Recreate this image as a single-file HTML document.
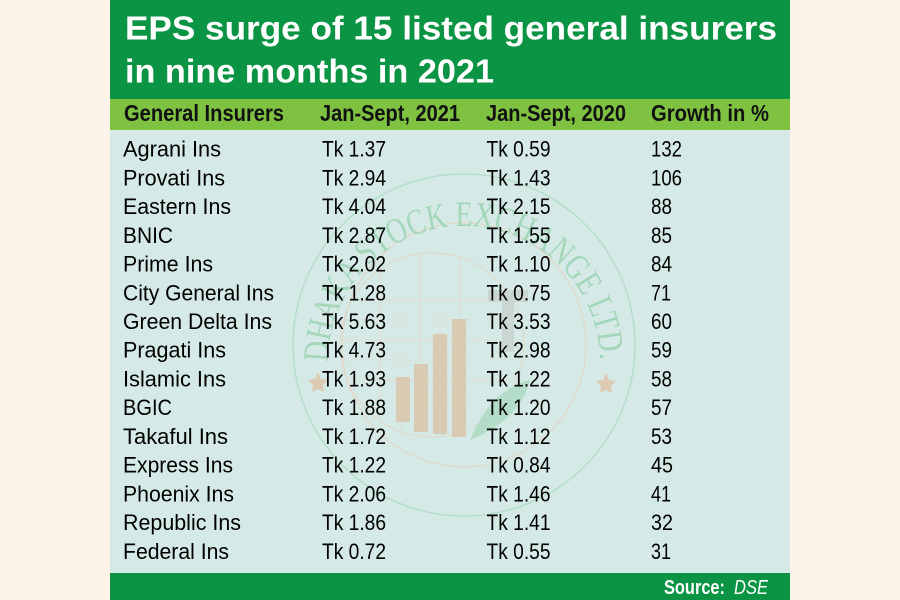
<!DOCTYPE html>
<html>
<head>
<meta charset="utf-8">
<style>
  html, body { margin: 0; padding: 0; background: #fdf3e8; }
  svg { display: block; }
  .t { font-family: "Liberation Sans", sans-serif; }
</style>
</head>
<body>
<svg width="900" height="600" viewBox="0 0 900 600" xmlns="http://www.w3.org/2000/svg">
  <rect x="0" y="0" width="900" height="600" fill="#fdf3e8"/>
  <!-- panel -->
  <rect x="110" y="0" width="680" height="99" fill="#0b9444"/>
  <rect x="110" y="99" width="680" height="31" fill="#7fc242"/>
  <rect x="110" y="130" width="680" height="443" fill="#d5eae6"/>
  <rect x="110" y="573" width="680" height="27" fill="#0b9444"/>

  <!-- watermark -->
  <g opacity="0.9">
    <circle cx="464" cy="345" r="171" fill="none" stroke="#b3dcc8" stroke-width="1.5"/>
    <circle cx="464" cy="345" r="122" fill="none" stroke="#e2d6c4" stroke-width="1.2"/>
    <circle cx="432" cy="345" r="92" fill="none" stroke="#e2d6c4" stroke-width="1"/>
    <g stroke="#e5dacb" stroke-width="0.8">
      <line x1="350" y1="300" x2="515" y2="300"/>
      <line x1="345" y1="320" x2="518" y2="320"/>
      <line x1="342" y1="340" x2="520" y2="340"/>
      <line x1="342" y1="360" x2="520" y2="360"/>
      <line x1="345" y1="380" x2="518" y2="380"/>
      <line x1="352" y1="400" x2="512" y2="400"/>
      <line x1="380" y1="262" x2="380" y2="425"/>
      <line x1="400" y1="256" x2="400" y2="432"/>
      <line x1="420" y1="253" x2="420" y2="436"/>
      <line x1="440" y1="253" x2="440" y2="436"/>
      <line x1="460" y1="256" x2="460" y2="432"/>
    </g>
    <rect x="396" y="377" width="14" height="45" fill="#d9c7ae"/>
    <rect x="414" y="364" width="14" height="68" fill="#d9c7ae"/>
    <rect x="433" y="334" width="14" height="100" fill="#d9c7ae"/>
    <rect x="452" y="319" width="14" height="118" fill="#d9c7ae"/>
    <path d="M488 290 h40 v12 h-14 v50 h-12 v-50 h-14z" fill="#c4ccc8" opacity="0.7"/>
    <path d="M470 440 q20 -50 60 -60 q-10 40 -60 60z" fill="#a6d7bb" opacity="0.8"/>
    <path d="M318 372 l3 7 l7 1 l-5 5 l1 7 l-6 -3 l-6 3 l1 -7 l-5 -5 l7 -1z" fill="#e0c7ad"/>
    <path d="M606 373 l3 7 l7 1 l-5 5 l1 7 l-6 -3 l-6 3 l1 -7 l-5 -5 l7 -1z" fill="#e0c7ad"/>
    <defs>
      <path id="arc" d="M 328 362 A 136 136 0 0 1 600 362"/>
    </defs>
    <text font-family="Liberation Serif, serif" font-size="36" fill="#9fd4b6">
      <textPath href="#arc" textLength="425" lengthAdjust="spacingAndGlyphs">DHAKA STOCK EXCHANGE LTD.</textPath>
    </text>
  </g>

  <!-- title -->
  <g class="t" font-weight="bold" font-size="33" fill="#ffffff">
    <text x="125" y="39.5" textLength="652" lengthAdjust="spacingAndGlyphs">EPS surge of 15 listed general insurers</text>
    <text x="125" y="82.5" textLength="369" lengthAdjust="spacingAndGlyphs">in nine months in 2021</text>
  </g>

  <!-- header row -->
  <g class="t" font-weight="bold" font-size="23" fill="#111">
    <text x="124" y="121" textLength="160" lengthAdjust="spacingAndGlyphs">General Insurers</text>
    <text x="320" y="121" textLength="140" lengthAdjust="spacingAndGlyphs">Jan-Sept, 2021</text>
    <text x="486" y="121" textLength="140" lengthAdjust="spacingAndGlyphs">Jan-Sept, 2020</text>
    <text x="651" y="121" textLength="118" lengthAdjust="spacingAndGlyphs">Growth in %</text>
  </g>

  <!-- body -->
  <g class="t" font-size="22" fill="#000">
    <text x="123" y="156.7" textLength="98" lengthAdjust="spacingAndGlyphs">Agrani Ins</text>
    <text x="322" y="156.7" textLength="64" lengthAdjust="spacingAndGlyphs">Tk 1.37</text>
    <text x="486.5" y="156.7" textLength="64" lengthAdjust="spacingAndGlyphs">Tk 0.59</text>
    <text x="651" y="156.7" textLength="31" lengthAdjust="spacingAndGlyphs">132</text>

    <text x="123" y="185.4" textLength="102" lengthAdjust="spacingAndGlyphs">Provati Ins</text>
    <text x="322" y="185.4" textLength="64" lengthAdjust="spacingAndGlyphs">Tk 2.94</text>
    <text x="486.5" y="185.4" textLength="64" lengthAdjust="spacingAndGlyphs">Tk 1.43</text>
    <text x="651" y="185.4" textLength="31" lengthAdjust="spacingAndGlyphs">106</text>

    <text x="123" y="214.1" textLength="108" lengthAdjust="spacingAndGlyphs">Eastern Ins</text>
    <text x="322" y="214.1" textLength="64" lengthAdjust="spacingAndGlyphs">Tk 4.04</text>
    <text x="486.5" y="214.1" textLength="64" lengthAdjust="spacingAndGlyphs">Tk 2.15</text>
    <text x="651" y="214.1" textLength="21" lengthAdjust="spacingAndGlyphs">88</text>

    <text x="123" y="242.9" textLength="50" lengthAdjust="spacingAndGlyphs">BNIC</text>
    <text x="322" y="242.9" textLength="64" lengthAdjust="spacingAndGlyphs">Tk 2.87</text>
    <text x="486.5" y="242.9" textLength="64" lengthAdjust="spacingAndGlyphs">Tk 1.55</text>
    <text x="651" y="242.9" textLength="21" lengthAdjust="spacingAndGlyphs">85</text>

    <text x="123" y="271.6" textLength="90" lengthAdjust="spacingAndGlyphs">Prime Ins</text>
    <text x="322" y="271.6" textLength="64" lengthAdjust="spacingAndGlyphs">Tk 2.02</text>
    <text x="486.5" y="271.6" textLength="64" lengthAdjust="spacingAndGlyphs">Tk 1.10</text>
    <text x="651" y="271.6" textLength="21" lengthAdjust="spacingAndGlyphs">84</text>

    <text x="123" y="300.3" textLength="151" lengthAdjust="spacingAndGlyphs">City General Ins</text>
    <text x="322" y="300.3" textLength="64" lengthAdjust="spacingAndGlyphs">Tk 1.28</text>
    <text x="486.5" y="300.3" textLength="64" lengthAdjust="spacingAndGlyphs">Tk 0.75</text>
    <text x="651" y="300.3" textLength="20" lengthAdjust="spacingAndGlyphs">71</text>

    <text x="123" y="329.0" textLength="149" lengthAdjust="spacingAndGlyphs">Green Delta Ins</text>
    <text x="322" y="329.0" textLength="64" lengthAdjust="spacingAndGlyphs">Tk 5.63</text>
    <text x="486.5" y="329.0" textLength="64" lengthAdjust="spacingAndGlyphs">Tk 3.53</text>
    <text x="651" y="329.0" textLength="21" lengthAdjust="spacingAndGlyphs">60</text>

    <text x="123" y="357.7" textLength="103" lengthAdjust="spacingAndGlyphs">Pragati Ins</text>
    <text x="322" y="357.7" textLength="64" lengthAdjust="spacingAndGlyphs">Tk 4.73</text>
    <text x="486.5" y="357.7" textLength="64" lengthAdjust="spacingAndGlyphs">Tk 2.98</text>
    <text x="651" y="357.7" textLength="21" lengthAdjust="spacingAndGlyphs">59</text>

    <text x="123" y="386.5" textLength="103" lengthAdjust="spacingAndGlyphs">Islamic Ins</text>
    <text x="322" y="386.5" textLength="64" lengthAdjust="spacingAndGlyphs">Tk 1.93</text>
    <text x="486.5" y="386.5" textLength="64" lengthAdjust="spacingAndGlyphs">Tk 1.22</text>
    <text x="651" y="386.5" textLength="21" lengthAdjust="spacingAndGlyphs">58</text>

    <text x="123" y="415.2" textLength="49" lengthAdjust="spacingAndGlyphs">BGIC</text>
    <text x="322" y="415.2" textLength="64" lengthAdjust="spacingAndGlyphs">Tk 1.88</text>
    <text x="486.5" y="415.2" textLength="64" lengthAdjust="spacingAndGlyphs">Tk 1.20</text>
    <text x="651" y="415.2" textLength="21" lengthAdjust="spacingAndGlyphs">57</text>

    <text x="123" y="443.9" textLength="105" lengthAdjust="spacingAndGlyphs">Takaful Ins</text>
    <text x="322" y="443.9" textLength="64" lengthAdjust="spacingAndGlyphs">Tk 1.72</text>
    <text x="486.5" y="443.9" textLength="64" lengthAdjust="spacingAndGlyphs">Tk 1.12</text>
    <text x="651" y="443.9" textLength="21" lengthAdjust="spacingAndGlyphs">53</text>

    <text x="123" y="472.6" textLength="110" lengthAdjust="spacingAndGlyphs">Express Ins</text>
    <text x="322" y="472.6" textLength="64" lengthAdjust="spacingAndGlyphs">Tk 1.22</text>
    <text x="486.5" y="472.6" textLength="64" lengthAdjust="spacingAndGlyphs">Tk 0.84</text>
    <text x="651" y="472.6" textLength="22" lengthAdjust="spacingAndGlyphs">45</text>

    <text x="123" y="501.3" textLength="111" lengthAdjust="spacingAndGlyphs">Phoenix Ins</text>
    <text x="322" y="501.3" textLength="64" lengthAdjust="spacingAndGlyphs">Tk 2.06</text>
    <text x="486.5" y="501.3" textLength="64" lengthAdjust="spacingAndGlyphs">Tk 1.46</text>
    <text x="651" y="501.3" textLength="20" lengthAdjust="spacingAndGlyphs">41</text>

    <text x="123" y="530.1" textLength="118" lengthAdjust="spacingAndGlyphs">Republic Ins</text>
    <text x="322" y="530.1" textLength="64" lengthAdjust="spacingAndGlyphs">Tk 1.86</text>
    <text x="486.5" y="530.1" textLength="64" lengthAdjust="spacingAndGlyphs">Tk 1.41</text>
    <text x="651" y="530.1" textLength="22" lengthAdjust="spacingAndGlyphs">32</text>

    <text x="123" y="558.8" textLength="106" lengthAdjust="spacingAndGlyphs">Federal Ins</text>
    <text x="322" y="558.8" textLength="64" lengthAdjust="spacingAndGlyphs">Tk 0.72</text>
    <text x="486.5" y="558.8" textLength="64" lengthAdjust="spacingAndGlyphs">Tk 0.55</text>
    <text x="651" y="558.8" textLength="20" lengthAdjust="spacingAndGlyphs">31</text>
  </g>

  <!-- footer -->
  <g class="t" font-size="20" fill="#ffffff">
    <text x="664" y="594" font-weight="bold" textLength="61" lengthAdjust="spacingAndGlyphs">Source:</text>
    <text x="734" y="594" font-style="italic" textLength="34" lengthAdjust="spacingAndGlyphs">DSE</text>
  </g>
</svg>
</body>
</html>
